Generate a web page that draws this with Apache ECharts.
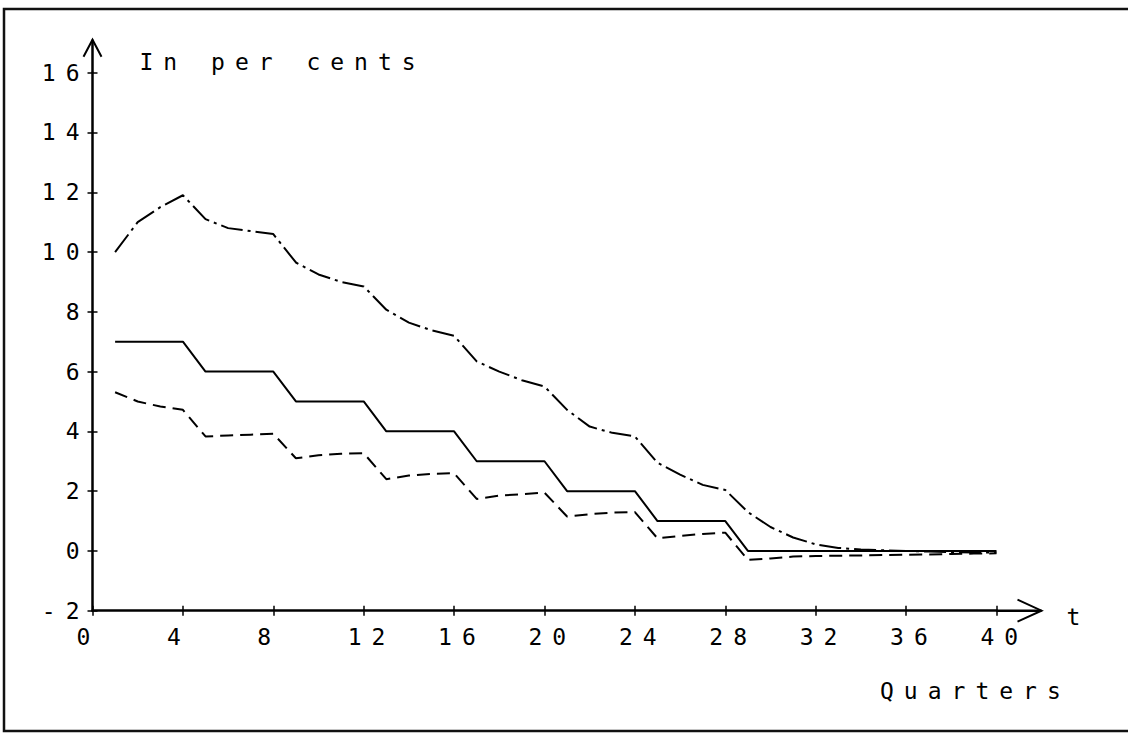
<!DOCTYPE html>
<html>
<head>
<meta charset="utf-8">
<script src="https://cdn.jsdelivr.net/npm/echarts@6/dist/echarts.min.js"></script>
<style>
  html, body { margin: 0; padding: 0; background: #fff; }
  #chart { width: 1128px; height: 734px; }
  /* plotter-style wide letter pitch */
  #chart text { letter-spacing: 10px; }
</style>
</head>
<body>
<div id="chart"></div>
<script>
// Quarters after the shock
const quarters = [1, 2, 3, 4, 5, 6, 7, 8, 9, 10, 11, 12, 13, 14, 15, 16, 17, 18, 19, 20,
                  21, 22, 23, 24, 25, 26, 27, 28, 29, 30, 31, 32, 33, 34, 35, 36, 37, 38, 39, 40];

// Solid path (in per cents)
const centralPath = [7, 7, 7, 7, 6, 6, 6, 6, 5, 5, 5, 5, 4, 4, 4, 4, 3, 3, 3, 3,
                     2, 2, 2, 2, 1, 1, 1, 1, 0, 0, 0, 0, 0, 0, 0, 0, 0, 0, 0, 0];

// Dashed path
const lowerPath = [5.31, 5.0, 4.83, 4.72, 3.83, 3.86, 3.89, 3.92, 3.1, 3.2, 3.25, 3.27,
                   2.4, 2.52, 2.58, 2.6, 1.74, 1.85, 1.9, 1.95, 1.15, 1.23, 1.28, 1.3,
                   0.42, 0.5, 0.57, 0.61, -0.3, -0.25, -0.19, -0.17, -0.16, -0.15, -0.14, -0.13,
                   -0.12, -0.1, -0.09, -0.08];

// Dash-dot path
const upperPath = [10.0, 11.0, 11.5, 11.9, 11.1, 10.8, 10.7, 10.6, 9.65, 9.25, 9.0, 8.85,
                   8.07, 7.64, 7.38, 7.2, 6.34, 6.0, 5.71, 5.5, 4.72, 4.16, 3.95, 3.83,
                   2.95, 2.55, 2.21, 2.04, 1.3, 0.8, 0.45, 0.22, 0.1, 0.05, 0.02, 0,
                   -0.02, -0.04, -0.05, -0.05];

// Axis ticks
const xTicks = [0, 4, 8, 12, 16, 20, 24, 28, 32, 36, 40];
const yTicks = [-2, 0, 2, 4, 6, 8, 10, 12, 14, 16];

const yAxisTitle = 'In per cents';
const xAxisTitle = 'Quarters';
const xAxisSymbol = 't';

const FONT = 'DejaVu Sans Mono';
const FONT_SIZE = 23;
const INK = '#000';

const pairs = vals => quarters.map((q, i) => [q, vals[i]]);

const chart = echarts.init(document.getElementById('chart'), null, { renderer: 'svg' });

const xBase = {
  type: 'value',
  min: xTicks[0],
  max: xTicks[xTicks.length - 1],
  interval: xTicks[1] - xTicks[0],
  position: 'bottom',
  splitLine: { show: false }
};
const yBase = {
  type: 'value',
  min: yTicks[0],
  max: yTicks[yTicks.length - 1],
  interval: yTicks[1] - yTicks[0],
  position: 'left',
  splitLine: { show: false }
};

chart.setOption({
  animation: false,
  backgroundColor: '#fff',
  grid: {
    left: 92.5, right: 131.5, top: 72.7, bottom: 123.3,
    containLabel: false, outerBoundsMode: 'none'
  },
  xAxis: [
    Object.assign({}, xBase, {
      axisLine: { show: true, onZero: false, lineStyle: { color: INK, width: 2.5 } },
      axisTick: { show: true, inside: false, length: 5, lineStyle: { color: INK, width: 1.5 } },
      axisLabel: {
        show: true, color: INK, fontFamily: FONT, fontSize: FONT_SIZE,
        align: 'left', verticalAlign: 'top', margin: 15, padding: [0, 0, 0, -16]
      }
    }),
    Object.assign({}, xBase, {
      axisLine: { show: false, onZero: false },
      axisTick: { show: true, inside: true, length: 5, lineStyle: { color: INK, width: 1.5 } },
      axisLabel: { show: false }
    })
  ],
  yAxis: [
    Object.assign({}, yBase, {
      axisLine: { show: true, onZero: false, lineStyle: { color: INK, width: 2.5 } },
      axisTick: { show: true, inside: false, length: 5, lineStyle: { color: INK, width: 1.5 } },
      axisLabel: {
        show: true, color: INK, fontFamily: FONT, fontSize: FONT_SIZE,
        align: 'right', verticalAlign: 'middle', margin: 3, padding: [5, 0, 0, 0]
      }
    }),
    Object.assign({}, yBase, {
      axisLine: { show: false, onZero: false },
      axisTick: { show: true, inside: true, length: 5, lineStyle: { color: INK, width: 1.5 } },
      axisLabel: { show: false }
    })
  ],
  series: [
    {
      type: 'line', xAxisIndex: 0, yAxisIndex: 0, data: pairs(centralPath),
      showSymbol: false, symbol: 'none', silent: true,
      lineStyle: { color: INK, width: 2, type: 'solid' }
    },
    {
      type: 'line', xAxisIndex: 0, yAxisIndex: 0, data: pairs(lowerPath),
      showSymbol: false, symbol: 'none', silent: true,
      lineStyle: { color: INK, width: 2, type: [13, 7] }
    },
    {
      type: 'line', xAxisIndex: 0, yAxisIndex: 0, data: pairs(upperPath),
      showSymbol: false, symbol: 'none', silent: true,
      lineStyle: { color: INK, width: 2, type: [22, 5, 3, 5] }
    }
  ]
});

// Axis arrows, titles and page frame, placed from the axis scales
const origin = chart.convertToPixel({ gridIndex: 0 }, [xTicks[0], yTicks[0]]);
const xEnd = chart.convertToPixel({ gridIndex: 0 }, [xTicks[xTicks.length - 1], yTicks[0]]);
const yEnd = chart.convertToPixel({ gridIndex: 0 }, [xTicks[0], yTicks[yTicks.length - 1]]);

const xTip = [xEnd[0] + 45, xEnd[1]];
const yTip = [yEnd[0], yEnd[1] - 33];
const lineStyle = { stroke: INK, lineWidth: 2.5, fill: null };
const textFont = FONT_SIZE + 'px "' + FONT + '"';

chart.setOption({
  graphic: [
    { type: 'polyline', silent: true, shape: { points: [xEnd, xTip] }, style: lineStyle },
    { type: 'polyline', silent: true,
      shape: { points: [[xTip[0] - 24, xTip[1] - 11], xTip, [xTip[0] - 24, xTip[1] + 11]] },
      style: { stroke: INK, lineWidth: 2, fill: null } },
    { type: 'polyline', silent: true, shape: { points: [yEnd, yTip] }, style: lineStyle },
    { type: 'polyline', silent: true,
      shape: { points: [[yTip[0] - 9, yTip[1] + 17], yTip, [yTip[0] + 9, yTip[1] + 17]] },
      style: { stroke: INK, lineWidth: 2, fill: null } },
    { type: 'text', silent: true,
      style: { text: yAxisTitle, x: origin[0] + 47, y: 62, fill: INK,
               font: textFont, textAlign: 'left', verticalAlign: 'middle' } },
    { type: 'text', silent: true,
      style: { text: xAxisSymbol, x: xTip[0] + 25, y: xTip[1] + 6, fill: INK,
               font: textFont, textAlign: 'left', verticalAlign: 'middle' } },
    { type: 'text', silent: true,
      style: { text: xAxisTitle, x: 880, y: 691, fill: INK,
               font: textFont, textAlign: 'left', verticalAlign: 'middle' } },
    { type: 'polyline', silent: true,
      shape: { points: [[1128, 9], [4, 9], [4, 731], [1128, 731]] },
      style: { stroke: '#111', lineWidth: 2.5, fill: null } }
  ]
});
</script>
</body>
</html>
